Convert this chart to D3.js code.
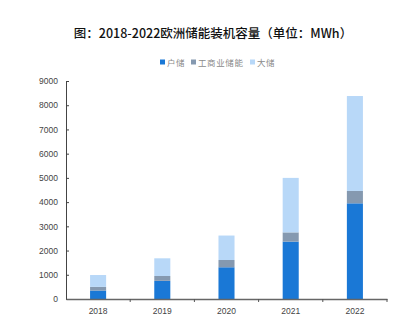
<!DOCTYPE html>
<html>
<head>
<meta charset="utf-8">
<script src="https://cdn.jsdelivr.net/npm/d3@7"></script>
<style>
  html, body { margin: 0; padding: 0; background: #fff; }
  svg { display: block; }
</style>
</head>
<body>
<svg id="chart" width="413" height="330"></svg>
<script>
// Installed energy storage capacity in Europe, MWh, by segment
const years = ["2018", "2019", "2020", "2021", "2022"];
const seriesNames = ["户储", "工商业储能", "大储"];
const residential = [350, 750, 1310, 2370, 3950];
const commercial = [150, 200, 300, 380, 510];
const utility = [490, 730, 1010, 2250, 3920];
const yTicks = [0, 1000, 2000, 3000, 4000, 5000, 6000, 7000, 8000, 9000];
const colors = ["#1a78d6", "#8599b0", "#b8d8f8"];

const svg = d3.select("#chart");
const margin = { left: 66, right: 26, top: 81, bottom: 31 };
const W = 413, H = 330;

const x = d3.scaleBand().domain(years).range([margin.left, W - margin.right]).padding(0);
const y = d3.scaleLinear().domain([0, 9000]).range([H - margin.bottom, margin.top]);

// Title
svg.append("text")
  .attr("x", 213).attr("y", 38)
  .attr("text-anchor", "middle")
  .attr("font-family", "'Noto Sans CJK SC', 'Noto Sans', sans-serif")
  .attr("font-size", 12.5)
  .attr("font-weight", 500)
  .attr("fill", "#111")
  .text("图：2018-2022欧洲储能装机容量（单位：MWh）");

// Legend
const legendItems = [
  { name: seriesNames[0], x: 160 },
  { name: seriesNames[1], x: 191 },
  { name: seriesNames[2], x: 250 }
];
const legend = svg.append("g");
legendItems.forEach((d, i) => {
  legend.append("rect")
    .attr("x", d.x).attr("y", 59.5).attr("width", 5).attr("height", 5)
    .attr("fill", colors[i]);
  legend.append("text")
    .attr("x", d.x + 7).attr("y", 65.5)
    .attr("font-family", "'Noto Sans CJK SC', sans-serif")
    .attr("font-size", 8.5)
    .attr("letter-spacing", 0.6)
    .attr("fill", "#8a8a8a")
    .text(d.name);
});

// Stacked bars
const rows = years.map((yr, i) => ({ year: yr, a: residential[i], b: commercial[i], c: utility[i] }));
const stack = d3.stack().keys(["a", "b", "c"])(rows);
const barW = x.bandwidth() * 0.25;

svg.append("g").selectAll("g")
  .data(stack)
  .join("g")
  .attr("fill", (d, i) => colors[i])
  .selectAll("rect")
  .data(d => d)
  .join("rect")
  .attr("x", d => x(d.data.year) + x.bandwidth() / 2 - barW / 2)
  .attr("width", barW)
  .attr("y", d => y(d[1]))
  .attr("height", d => y(d[0]) - y(d[1]));

// Y axis
const yAxis = svg.append("g")
  .attr("transform", `translate(${margin.left},0)`)
  .call(d3.axisLeft(y).tickValues(yTicks).tickFormat(d3.format("d"))
    .tickSize(-3).tickPadding(8).tickSizeOuter(0));
yAxis.select(".domain").attr("stroke", "#444");
yAxis.selectAll(".tick line").attr("stroke", "#444");
yAxis.selectAll("text")
  .attr("font-family", "'Liberation Sans', Arial, sans-serif")
  .attr("font-size", 8.5)
  .attr("fill", "#444");

// X axis
const xAxis = svg.append("g")
  .attr("transform", `translate(0,${H - margin.bottom})`)
  .call(d3.axisBottom(x).tickSize(0).tickPadding(9).tickSizeOuter(0));
xAxis.select(".domain").attr("stroke", "#666").attr("stroke-width", 1.3);
xAxis.selectAll("text")
  .attr("font-family", "'Liberation Sans', Arial, sans-serif")
  .attr("font-size", 8.5)
  .attr("fill", "#444");
// Category boundary ticks
xAxis.selectAll(".sep")
  .data(years)
  .join("line")
  .attr("class", "sep")
  .attr("x1", d => x(d) + x.bandwidth())
  .attr("x2", d => x(d) + x.bandwidth())
  .attr("y1", 0).attr("y2", 3)
  .attr("stroke", "#555");
</script>
</body>
</html>
